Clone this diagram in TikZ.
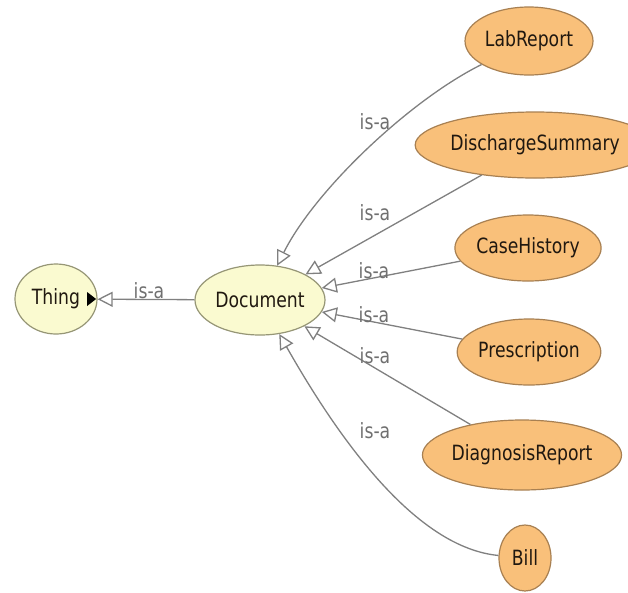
\documentclass[tikz,border=0pt]{standalone}
\usepackage{fontspec}
\setmainfont{DejaVu Sans}
\newfontfamily\nodefont{DejaVu Sans}[FakeStretch=0.82]
\usetikzlibrary{shapes.geometric,arrows.meta}
\definecolor{yfill}{RGB}{250,250,208}
\definecolor{ydraw}{RGB}{150,150,118}
\definecolor{ofill}{RGB}{249,192,122}
\definecolor{odraw}{RGB}{168,128,82}
\definecolor{edgec}{RGB}{128,128,128}
\definecolor{lblc}{RGB}{112,112,112}
\definecolor{txtc}{RGB}{32,24,16}
\tikzset{
  cls/.style={ellipse, inner sep=0pt, line width=1.2pt, text=txtc,
    font=\nodefont\fontsize{21pt}{24pt}\selectfont},
  ycls/.style={cls, draw=ydraw, fill=yfill},
  ocls/.style={cls, draw=odraw, fill=ofill},
  isa/.style={draw=edgec, line width=1.3pt,
    -{Triangle[open, length=15pt, width=15pt]}},
  lbl/.style={inner sep=0pt, text=lblc, font=\nodefont\fontsize{21pt}{24pt}\selectfont}
}
\begin{document}
\begin{tikzpicture}[x=1pt,y=-1pt]
\useasboundingbox[fill=white] (0,0) rectangle (628,592);

\node[ycls, minimum width=82pt, minimum height=70pt] (Thing) at (56,299) {Thing};
\node[ycls, minimum width=130pt, minimum height=70pt] (Document) at (260,300) {Document};
\node[ocls, minimum width=128pt, minimum height=68pt] (LabReport) at (529,41) {LabReport};
\node[ocls, minimum width=186pt, minimum height=66pt] (DischargeSummary) at (535,145) {DischargeSummary};
\node[ocls, minimum width=144pt, minimum height=66pt] (CaseHistory) at (528,248) {CaseHistory};
\node[ocls, minimum width=138pt, minimum height=66pt] (Prescription) at (529,352) {Prescription};
\node[ocls, minimum width=162pt, minimum height=70pt] (DiagnosisReport) at (522,455) {DiagnosisReport};
\node[ocls, minimum width=52pt, minimum height=66pt] (Bill) at (525,558) {Bill};

% expand marker inside Thing
\fill[black] ([xshift=-1.5pt]Thing.east) -- ++(-9,-7) -- ++(0,14) -- cycle;

\draw[isa] (Document) -- (Thing);
\draw[isa] (LabReport) .. controls (410,100) and (315,190) .. (Document);
\draw[isa] (DischargeSummary) -- (Document);
\draw[isa] (CaseHistory) -- (Document);
\draw[isa] (Prescription) -- (Document);
\draw[isa] (DiagnosisReport) -- (Document);
\draw[isa] (Bill) .. controls (420,548) and (345,450) .. (Document);

\node[lbl] (l0) at (149,291) {is-a};
\node[lbl] (l1) at (375,122) {is-a};
\node[lbl] (l2) at (375,213) {is-a};
\node[lbl] (l3) at (374,271) {is-a};
\node[lbl] (l4) at (374,315) {is-a};
\node[lbl] (l5) at (375,356) {is-a};
\node[lbl] (l6) at (375,431) {is-a};
\end{tikzpicture}
\end{document}
